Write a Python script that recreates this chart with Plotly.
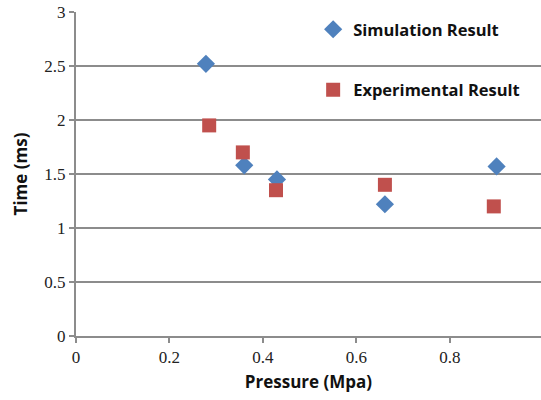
import plotly.graph_objects as go

sim_pressure = [0.278, 0.360, 0.430, 0.661, 0.900]
sim_time = [2.52, 1.58, 1.45, 1.22, 1.57]
exp_pressure = [0.285, 0.357, 0.428, 0.661, 0.894]
exp_time = [1.95, 1.70, 1.35, 1.40, 1.20]

x_ticks = [0, 0.2, 0.4, 0.6, 0.8]
y_ticks = [0, 0.5, 1, 1.5, 2, 2.5, 3]

fig = go.Figure()
fig.add_trace(go.Scatter(
    x=sim_pressure, y=sim_time, mode="markers", name="Simulation Result",
    legendgroup="sim",
    marker=dict(symbol="diamond", size=14, color="#4F81BD"),
))
fig.add_trace(go.Scatter(
    x=exp_pressure, y=exp_time, mode="markers", name="Experimental Result",
    legendgroup="exp",
    marker=dict(symbol="square", size=14, color="#C0504D"),
))

axis_font = dict(family="Liberation Serif", size=17, color="#222")
title_font = dict(family="Open Sans", size=17, color="#111", weight="bold")

fig.update_layout(
    width=541, height=400,
    margin=dict(l=76, r=0, t=12, b=64),
    paper_bgcolor="white", plot_bgcolor="white",
    showlegend=True,
    legend=dict(
        x=0.51, y=1.0, xanchor="left", yanchor="top",
        bgcolor="rgba(0,0,0,0)",
        font=dict(family="Open Sans", size=16.5, color="#111", weight="bold"),
        traceorder="grouped", tracegroupgap=36,
        itemwidth=30,
    ),
    xaxis=dict(
        range=[0, 0.995], tickvals=x_ticks, ticktext=[str(v) for v in x_ticks],
        showgrid=False, zeroline=False,
        showline=True, linecolor="#8c8c8c", linewidth=2,
        ticks="outside", ticklen=5, tickcolor="#8c8c8c", tickwidth=2,
        tickfont=axis_font,
        title=dict(text="Pressure (Mpa)", font=title_font, standoff=10),
    ),
    yaxis=dict(
        range=[0, 3], tickvals=y_ticks, ticktext=[str(v) for v in y_ticks],
        showgrid=True, gridcolor="#8c8c8c", gridwidth=2,
        zeroline=False,
        showline=True, linecolor="#8c8c8c", linewidth=2,
        ticks="outside", ticklen=5, tickcolor="#8c8c8c", tickwidth=2,
        tickfont=axis_font,
        title=dict(text="Time (ms)", font=title_font, standoff=12),
    ),
)

fig.write_html("out.html")
